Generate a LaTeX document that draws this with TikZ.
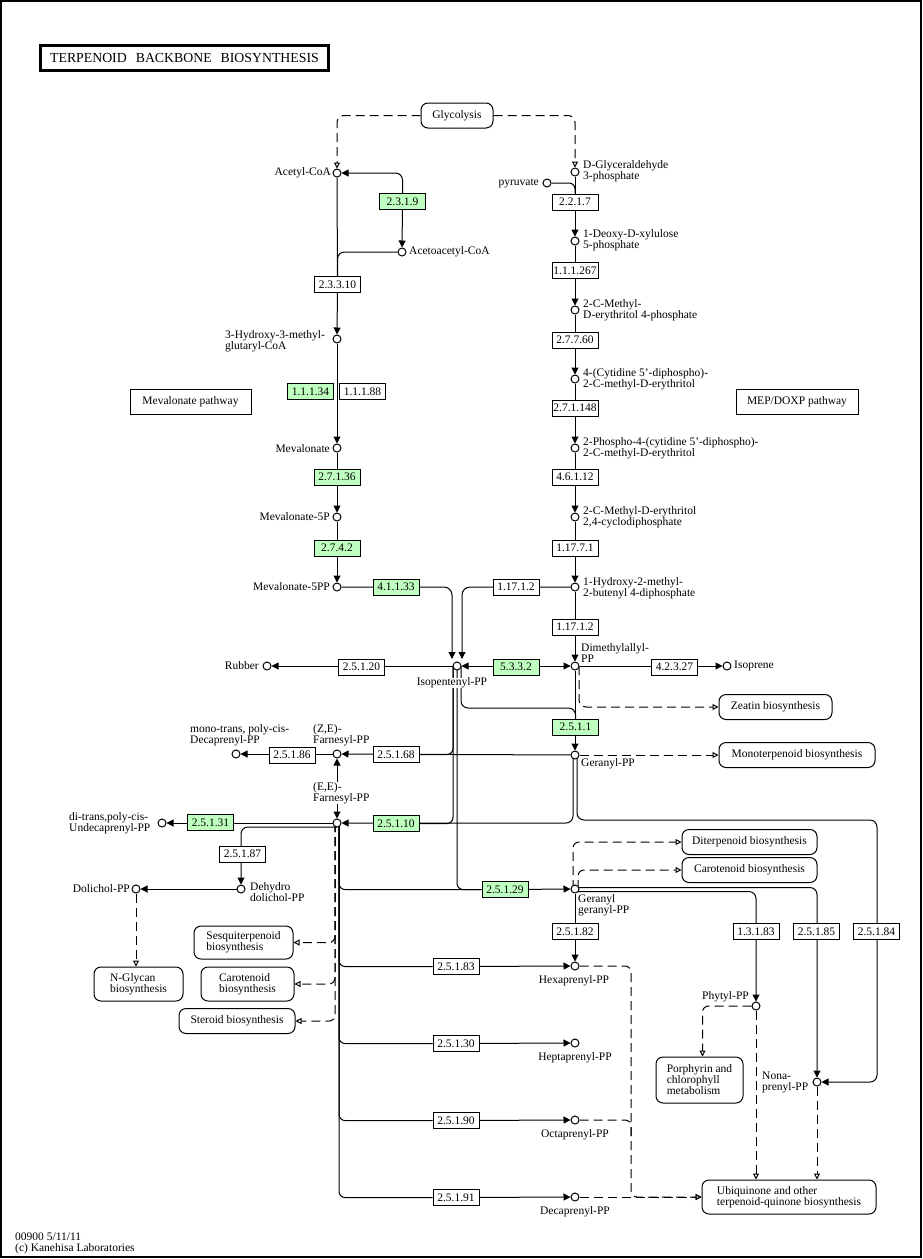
\documentclass[tikz,border=0pt]{standalone}
\usepackage{fontspec}
\setmainfont{Liberation Serif}
\usetikzlibrary{arrows.meta,calc}
\pgfdeclarelayer{bg}
\pgfsetlayers{bg,main}
\definecolor{kgreen}{HTML}{BFFFBF}
\newcommand\kgf{\fontsize{11.5pt}{11pt}\selectfont}
\newcommand\kgtitlefont{\fontsize{13.8pt}{14pt}\selectfont}
\begin{document}
\begin{tikzpicture}[x=1pt,y=-1pt,
  every node/.style={font=\kgf,inner sep=0pt},
  enz/.style={draw,fill=white,minimum width=46pt,minimum height=16pt,line width=1pt},
  genz/.style={enz,fill=kgreen},
  cpd/.style={draw,circle,fill=white,minimum size=8pt,line width=1pt},
  pmap/.style={draw,rounded corners=7pt,fill=white,line width=1pt,align=left},
  smap/.style={draw,fill=white,line width=1pt},
  lbl/.style={align=left},
  conn/.style={line width=1pt},
  dsh/.style={line width=1pt,dash pattern=on 9pt off 5pt},
  farr/.style={-{Triangle[length=7pt,width=7pt]}},
  rarr/.style={{Triangle[length=7pt,width=7pt]}-},
  farrb/.style={{Triangle[length=7pt,width=7pt]}-{Triangle[length=7pt,width=7pt]}},
  oarr/.style={-{Triangle[open,length=6pt,width=6pt]}}]
\useasboundingbox (0,0) rectangle (923,1259);
\draw[line width=1.5pt] (1,1) rectangle (921,1257);

% title
\node[draw,line width=2.8pt,minimum width=288pt,minimum height=25pt,font=\kgtitlefont] (title) at (184.5,58) {TERPENOID\hspace{9pt}BACKBONE\hspace{9pt}BIOSYNTHESIS};

% pathway maps
\node[pmap,minimum width=72pt,minimum height=25pt] (glyc) at (457,115.5) {Glycolysis};
\node[smap,minimum width=121pt,minimum height=25pt] (mevpath) at (190.5,401.5) {Mevalonate pathway};
\node[smap,minimum width=122pt,minimum height=25pt] (meppath) at (797,401.5) {MEP/DOXP pathway};
\node[pmap,minimum width=113pt,minimum height=25pt] (zeatin) at (775.5,707) {Zeatin biosynthesis};
\node[pmap,minimum width=156pt,minimum height=25pt] (mono) at (797,755) {Monoterpenoid biosynthesis};
\node[pmap,minimum width=135pt,minimum height=25pt] (diterp) at (749.5,842) {Diterpenoid biosynthesis};
\node[pmap,minimum width=135pt,minimum height=25pt] (carotR) at (749.5,870) {Carotenoid biosynthesis};
\node[pmap,minimum width=99pt,minimum height=33pt] (sesq) at (243.5,942.5) {Sesquiterpenoid\\biosynthesis};
\node[pmap,minimum width=93pt,minimum height=34pt] (carotL) at (247.5,984) {Carotenoid\\biosynthesis};
\node[pmap,minimum width=116pt,minimum height=25pt] (steroid) at (237,1021) {Steroid biosynthesis};
\node[pmap,minimum width=89pt,minimum height=34pt] (nglycan) at (138.5,984) {N-Glycan\\biosynthesis};
\node[pmap,minimum width=87pt,minimum height=46pt] (porph) at (699.5,1080) {Porphyrin and\\chlorophyll\\metabolism};
\node[pmap,minimum width=174pt,minimum height=34pt] (ubiq) at (789,1197) {Ubiquinone and other\\terpenoid-quinone biosynthesis};

% compounds
\node[cpd] (acetyl) at (337,173) {};
\node[cpd] (acac) at (402,252) {};
\node[cpd] (hmg) at (337,339) {};
\node[cpd] (mev) at (337,448) {};
\node[cpd] (mevp) at (337,517) {};
\node[cpd] (mevpp) at (337,587) {};
\node[cpd] (gap) at (575,172) {};
\node[cpd] (pyr) at (547,183) {};
\node[cpd] (dxp) at (575,241) {};
\node[cpd] (mep) at (575,310) {};
\node[cpd] (cdpme) at (575,379) {};
\node[cpd] (cdpmep) at (575,448) {};
\node[cpd] (mecpp) at (575,517) {};
\node[cpd] (hmbpp) at (575,587) {};
\node[cpd] (ipp) at (457,666) {};
\node[cpd] (dmapp) at (575,666) {};
\node[cpd] (rubber) at (267,666) {};
\node[cpd] (isoprene) at (727,666) {};
\node[cpd] (gpp) at (575,755) {};
\node[cpd] (zefpp) at (337,754) {};
\node[cpd] (eefpp) at (337,823) {};
\node[cpd] (decmono) at (236,754) {};
\node[cpd] (undec) at (162,823) {};
\node[cpd] (dehydro) at (241,889) {};
\node[cpd] (dolichol) at (136,889) {};
\node[cpd] (ggpp) at (575,889) {};
\node[cpd] (hexa) at (575,966) {};
\node[cpd] (hepta) at (575,1043) {};
\node[cpd] (octa) at (575,1120) {};
\node[cpd] (deca) at (575,1197) {};
\node[cpd] (phytyl) at (756,1006) {};
\node[cpd] (nona) at (817,1082) {};

% enzymes
\node[genz] (e2319) at (402.5,201.5) {2.3.1.9};
\node[enz] (e23310) at (337.5,284.5) {2.3.3.10};
\node[genz] (e11134) at (310.5,391.5) {1.1.1.34};
\node[enz] (e11188) at (362.5,391.5) {1.1.1.88};
\node[genz] (e27136) at (337,477) {2.7.1.36};
\node[genz] (e2742) at (337,548) {2.7.4.2};
\node[genz] (e41133) at (396,587) {4.1.1.33};
\node[enz] (e11712a) at (516,587) {1.17.1.2};
\node[enz] (e11712b) at (575,627) {1.17.1.2};
\node[genz] (e5332) at (516,667) {5.3.3.2};
\node[enz] (e25120) at (361.5,667) {2.5.1.20};
\node[enz] (e42327) at (674.5,667) {4.2.3.27};
\node[genz] (e2511) at (575.5,727) {2.5.1.1};
\node[enz] (e25168) at (396,754.5) {2.5.1.68};
\node[enz] (e25186) at (292,755) {2.5.1.86};
\node[genz] (e25110) at (396,823.5) {2.5.1.10};
\node[genz] (e25131) at (210.5,822.5) {2.5.1.31};
\node[enz] (e25187) at (242.5,854) {2.5.1.87};
\node[genz] (e25129) at (505,889.5) {2.5.1.29};
\node[enz] (e25182) at (575,931.5) {2.5.1.82};
\node[enz] (e13183) at (756,931.5) {1.3.1.83};
\node[enz] (e25185) at (816.5,931.5) {2.5.1.85};
\node[enz] (e25184) at (876.5,931.5) {2.5.1.84};
\node[enz] (e25183) at (456,966.5) {2.5.1.83};
\node[enz] (e25130) at (456,1043.5) {2.5.1.30};
\node[enz] (e25190) at (456,1120.5) {2.5.1.90};
\node[enz] (e25191) at (456,1197.5) {2.5.1.91};
\node[enz] (e2217) at (575,202) {2.2.1.7};
\node[enz] (e111267) at (575,270.5) {1.1.1.267};
\node[enz] (e27760) at (575,340) {2.7.7.60};
\node[enz] (e271148) at (575,408) {2.7.1.148};
\node[enz] (e46112) at (575,477) {4.6.1.12};
\node[enz] (e11771) at (575,548) {1.17.7.1};

% labels
\node[lbl,anchor=east] (lacetyl) at (331,173) {Acetyl-CoA};
\node[lbl,anchor=west] (lacac) at (409,252) {Acetoacetyl-CoA};
\node[lbl,anchor=west] (lhmg) at (225,341) {3-Hydroxy-3-methyl-\\glutaryl-CoA};
\node[lbl,anchor=east] (lmev) at (330,449) {Mevalonate};
\node[lbl,anchor=east] (lmevp) at (330,517) {Mevalonate-5P};
\node[lbl,anchor=east] (lmevpp) at (330,587) {Mevalonate-5PP};
\node[lbl,anchor=west] (lgap) at (583,171.5) {D-Glyceraldehyde\\3-phosphate};
\node[lbl,anchor=east] (lpyr) at (539,183) {pyruvate};
\node[lbl,anchor=west] (ldxp) at (583,240.5) {1-Deoxy-D-xylulose\\5-phosphate};
\node[lbl,anchor=west] (lmep) at (583,310) {2-C-Methyl-\\D-erythritol 4-phosphate};
\node[lbl,anchor=west] (lcdpme) at (583,379) {4-(Cytidine 5'-diphospho)-\\2-C-methyl-D-erythritol};
\node[lbl,anchor=west] (lcdpmep) at (583,448) {2-Phospho-4-(cytidine 5'-diphospho)-\\2-C-methyl-D-erythritol};
\node[lbl,anchor=west] (lmecpp) at (583,517.5) {2-C-Methyl-D-erythritol\\2,4-cyclodiphosphate};
\node[lbl,anchor=west] (lhmbpp) at (583,588) {1-Hydroxy-2-methyl-\\2-butenyl 4-diphosphate};
\node[lbl,anchor=west] (ldmapp) at (581,653) {Dimethylallyl-\\PP};
\node[lbl,anchor=east] (lrubber) at (259,666) {Rubber};
\node[lbl,anchor=west] (lisoprene) at (734,666) {Isoprene};
\node[lbl,fill=white] (lipp) at (452,683) {Isopentenyl-PP};
\node[lbl,anchor=west] (lgpp) at (581,764) {Geranyl-PP};
\node[lbl,anchor=west] (lzefpp) at (313,735) {(Z,E)-\\Farnesyl-PP};
\node[lbl,anchor=west,fill=white] (leefpp) at (313,793) {(E,E)-\\Farnesyl-PP};
\node[lbl,anchor=west] (ldecmono) at (190,735) {mono-trans, poly-cis-\\Decaprenyl-PP};
\node[lbl,anchor=west] (lundec) at (69,823) {di-trans,poly-cis-\\Undecaprenyl-PP};
\node[lbl,anchor=west] (ldehydro) at (250,892) {Dehydro\\dolichol-PP};
\node[lbl,anchor=east] (ldolichol) at (130,889) {Dolichol-PP};
\node[lbl,anchor=west] (lggpp) at (578,905.5) {Geranyl\\geranyl-PP};
\node[lbl] (lhexa) at (574,981) {Hexaprenyl-PP};
\node[lbl] (lhepta) at (575,1058) {Heptaprenyl-PP};
\node[lbl] (locta) at (575,1135) {Octaprenyl-PP};
\node[lbl] (ldeca) at (575,1212) {Decaprenyl-PP};
\node[lbl,anchor=east] (lphytyl) at (749,997) {Phytyl-PP};
\node[lbl,anchor=west] (lnona) at (762,1082.5) {Nona-\\prenyl-PP};
\node[lbl,anchor=west] (lfoot) at (15,1243) {00900 5/11/11\\(c) Kanehisa Laboratories};

% helper coordinates
\coordinate (ippL) at (452,659);
\coordinate (ippR) at (462,659);
\coordinate (ippA) at (453,666);
\coordinate (ippB) at (457,666);
\coordinate (ippC) at (461,666);
\coordinate (dmappD) at (579,666);
\coordinate (gppL) at (573,755);
\coordinate (gppR) at (577,755);
\coordinate (eefppL) at (337,827);
\coordinate (eefppS) at (339,823);
\coordinate (eefppD) at (335,823);
\coordinate (ggppDL) at (573,889);
\coordinate (ggppDR) at (578,889);
\coordinate (ggppE1) at (575,887.5);
\coordinate (ggppE2) at (575,891.5);

\begin{pgfonlayer}{bg}
% glycolysis
\draw[dsh,oarr,rounded corners=7pt] (glyc.west) -| (acetyl);
\draw[dsh,oarr,rounded corners=7pt] (glyc.east) -| (gap);
% mevalonate pathway
\draw[conn,rarr,rounded corners=7pt] (acetyl) -| (e2319);
\draw[conn,farr] (e2319) -- (acac);
\draw[conn,rounded corners=7pt] (acac) -| (e23310.north);
\draw[conn] (acetyl) -- (e23310);
\draw[conn,farr] (e23310) -- (hmg);
\draw[conn,farr] (hmg) -- (mev);
\draw[conn,farr] (mev) -- (mevp);
\draw[conn,farr] (mevp) -- (mevpp);
\draw[conn,farr,rounded corners=8pt] (mevpp) -| (ippL);
% MEP pathway
\draw[conn,rounded corners=6pt] (pyr) -| (e2217.north);
\draw[conn,farr] (gap) -- (dxp);
\draw[conn,farr] (dxp) -- (mep);
\draw[conn,farr] (mep) -- (cdpme);
\draw[conn,farr] (cdpme) -- (cdpmep);
\draw[conn,farr] (cdpmep) -- (mecpp);
\draw[conn,farr] (mecpp) -- (hmbpp);
\draw[conn,farr] (hmbpp) -- (dmapp);
\draw[conn,farr,rounded corners=8pt] (hmbpp) -| (ippR);
% IPP / DMAPP
\draw[conn,farrb] (ipp) -- (dmapp);
\draw[conn,farr] (ipp) -- (rubber);
\draw[conn,farr] (dmapp) -- (isoprene);
\draw[dsh,oarr,rounded corners=7pt] (dmappD) |- (zeatin.west);
\draw[conn,farr] (dmapp) -- (gpp);
\draw[conn,rounded corners=7pt] (ippC) -- (461,708) -| (e2511.north);
\draw[conn,rounded corners=6pt] (ippB) |- (e25129.west);
\draw[conn,rounded corners=6pt] (ippA) |- (e25168.east);
\draw[conn,rounded corners=6pt] (ippA) |- (e25110.east);
% GPP
\draw[conn,farr] (gpp) -- (zefpp);
\draw[dsh,oarr] (gpp) -- (mono.west);
\draw[conn,farr,rounded corners=7pt] (gppL) |- (eefpp);
\draw[conn,farr,rounded corners=7pt] (gppR) |- (877,820) |- (nona);
% FPP
\draw[conn,farrb] (eefpp) -- (zefpp);
\draw[conn,farr] (zefpp) -- (decmono);
\draw[conn,farr] (eefpp) -- (undec);
\draw[conn,farr,rounded corners=7pt] (eefppL) -| (dehydro);
\draw[conn,farr] (dehydro) -- (dolichol);
\draw[dsh,oarr] (dolichol) -- (dolichol |- nglycan.north);
\draw[conn,rounded corners=6pt] (eefppS) |- (e25129.west);
\draw[conn,rounded corners=6pt] (eefppS) |- (e25183.west);
\draw[conn,rounded corners=6pt] (eefppS) |- (e25130.west);
\draw[conn,rounded corners=6pt] (eefppS) |- (e25190.west);
\draw[conn,rounded corners=6pt] (eefppS) |- (e25191.west);
\draw[conn,farr] (e25129) -- (ggpp);
\draw[conn,farr] (e25183) -- (hexa);
\draw[conn,farr] (e25130) -- (hepta);
\draw[conn,farr] (e25190) -- (octa);
\draw[conn,farr] (e25191) -- (deca);
\draw[dsh,oarr,rounded corners=6pt] (eefppD) |- (sesq.east);
\draw[dsh,oarr,rounded corners=6pt] (eefppD) |- (carotL.east);
\draw[dsh,oarr,rounded corners=6pt] (eefppD) |- (steroid.east);
% GGPP
\draw[conn,farr] (ggpp) -- (hexa);
\draw[dsh,oarr,rounded corners=6pt] (ggppDL) |- (diterp.west);
\draw[dsh,oarr,rounded corners=6pt] (ggppDR) |- (carotR.west);
\draw[conn,farr,rounded corners=7pt] (ggppE2) -| (phytyl);
\draw[conn,farr,rounded corners=7pt] (ggppE1) -| (nona);
\draw[dsh,oarr,rounded corners=6pt] (phytyl) -| ([xshift=3pt]porph.north);
\draw[dsh,oarr] (phytyl) -- (phytyl |- ubiq.north);
\draw[dsh,oarr] (nona) -- (nona |- ubiq.north);
\draw[dsh,oarr,rounded corners=6pt] (hexa) -- (631,966) |- (ubiq.west);
\draw[dsh,rounded corners=6pt] (octa) -| (631,1140);
\draw[dsh,oarr] (deca) -- (ubiq.west);
\end{pgfonlayer}
\end{tikzpicture}
\end{document}
